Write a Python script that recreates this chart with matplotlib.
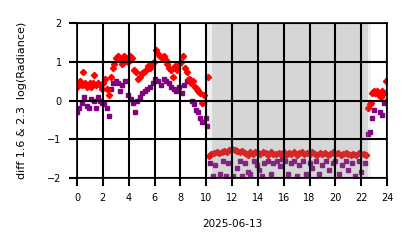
import matplotlib
matplotlib.use("Agg")
import matplotlib.pyplot as plt

# daytime (hours of 2025-06-13, diff value)
red_day_h = [0.0, 0.1, 0.2, 0.35, 0.5, 0.6, 0.75, 0.9, 1.0, 1.1, 1.2, 1.35, 1.45, 1.6, 1.75,
             1.9, 2.0, 2.15, 2.3, 2.45, 2.6, 2.75, 2.9, 3.05, 3.2, 3.35, 3.5, 3.65, 3.8, 3.95,
             4.1, 4.25, 4.4, 4.6, 4.75, 4.9, 5.05, 5.2, 5.35, 5.5, 5.65, 5.8, 5.95, 6.1, 6.25,
             6.4, 6.55, 6.7, 6.85, 7.0, 7.15, 7.3, 7.45, 7.6, 7.75, 7.9, 8.05, 8.2, 8.35, 8.5,
             8.65, 8.8, 8.95, 9.1, 9.25, 9.4, 9.55, 9.7, 9.85, 10.15]
red_day_v = [0.35, 0.45, 0.5, 0.4, 0.75, 0.45, 0.35, 0.4, 0.45, 0.35, 0.45, 0.65, 0.4, 0.45, 0.4,
             0.3, 0.45, 0.55, 0.3, 0.15, 0.6, 0.85, 0.95, 1.1, 1.15, 1.05, 0.95, 1.15, 1.05, 1.0,
             1.15, 1.1, 0.8, 0.75, 0.55, 0.6, 0.7, 0.75, 0.8, 0.9, 0.85, 0.95, 1.0, 1.3, 1.2,
             1.15, 1.1, 1.15, 1.05, 0.95, 0.85, 0.8, 0.6, 0.9, 0.8, 0.95, 1.0, 1.15, 0.85, 0.75,
             0.55, 0.45, 0.5, 0.35, 0.3, 0.25, 0.2, -0.05, 0.15, 0.6]

pur_day_h = [0.0, 0.15, 0.4, 0.55, 0.75, 0.9, 1.1, 1.3, 1.45, 1.6, 1.8, 1.95, 2.1, 2.3, 2.45,
             2.6, 2.8, 3.0, 3.15, 3.35, 3.5, 3.75, 3.95, 4.2, 4.35, 4.5, 4.65, 4.85, 5.05, 5.25,
             5.45, 5.65, 5.85, 6.05, 6.3, 6.5, 6.7, 6.9, 7.1, 7.3, 7.5, 7.7, 7.9, 8.1, 8.3,
             8.5, 8.7, 8.9, 9.05, 9.2, 9.35, 9.5, 9.65, 9.8, 9.95, 10.05]
pur_day_v = [-0.3, -0.2, -0.05, 0.1, -0.15, -0.2, 0.05, 0.0, -0.2, 0.1, 0.0, -0.05, -0.1, -0.2, -0.4,
             0.3, 0.45, 0.5, 0.45, 0.25, 0.4, 0.5, 0.15, 0.05, -0.05, -0.3, 0.0, 0.1, 0.2, 0.25,
             0.3, 0.35, 0.45, 0.55, 0.5, 0.4, 0.55, 0.5, 0.45, 0.35, 0.3, 0.25, 0.35, 0.2, 0.4,
             0.5, 0.55, 0.0, -0.1, -0.25, -0.3, -0.45, -0.55, -0.05, -0.45, -0.65]

# night
red_night_h = [10.2, 10.4, 10.6, 10.8, 11.0, 11.2, 11.4, 11.6, 11.8, 12.0, 12.2, 12.4, 12.6,
               12.8, 13.0, 13.2, 13.4, 13.6, 13.8, 14.0, 14.2, 14.4, 14.6, 14.8, 15.0, 15.2,
               15.4, 15.6, 15.8, 16.0, 16.2, 16.4, 16.6, 16.8, 17.0, 17.2, 17.4, 17.6, 17.8,
               18.0, 18.2, 18.4, 18.6, 18.8, 19.0, 19.2, 19.4, 19.6, 19.8, 20.0, 20.2, 20.4,
               20.6, 20.8, 21.0, 21.2, 21.4, 21.6, 21.8, 22.0, 22.2, 22.4]
red_night_v = [-1.42, -1.38, -1.35, -1.33, -1.36, -1.32, -1.30, -1.34, -1.27, -1.25, -1.28, -1.30,
               -1.33, -1.31, -1.36, -1.40, -1.33, -1.37, -1.32, -1.35, -1.38, -1.34, -1.36, -1.40,
               -1.33, -1.37, -1.39, -1.35, -1.38, -1.33, -1.40, -1.36, -1.38, -1.34, -1.41, -1.36,
               -1.33, -1.38, -1.35, -1.39, -1.34, -1.37, -1.40, -1.35, -1.38, -1.36, -1.41, -1.37,
               -1.34, -1.39, -1.36, -1.40, -1.37, -1.35, -1.39, -1.41, -1.37, -1.40, -1.36, -1.39,
               -1.38, -1.40]

pur_night_h = [10.3, 10.5, 10.7, 10.9, 11.1, 11.3, 11.5, 11.7, 11.9, 12.1, 12.4, 12.6, 12.8, 13.0,
               13.2, 13.4, 13.7, 13.9, 14.1, 14.3, 14.5, 14.8, 15.0, 15.2, 15.5, 15.7, 15.9, 16.1,
               16.3, 16.6, 16.8, 17.0, 17.2, 17.5, 17.7, 18.0, 18.2, 18.5, 18.7, 19.0, 19.3, 19.5,
               19.8, 20.0, 20.3, 20.5, 20.8, 21.0, 21.3, 21.5, 21.8, 22.0, 22.3]
pur_night_v = [-1.6, -1.95, -1.65, -2.1, -1.9, -1.55, -1.95, -1.6, -2.05, -1.95, -1.75, -1.55, -1.95,
               -1.6, -1.85, -1.9, -1.55, -1.65, -1.8, -1.95, -1.6, -1.55, -1.9, -1.6, -1.55, -1.7,
               -1.5, -1.55, -1.9, -1.6, -1.55, -1.95, -1.65, -1.55, -1.9, -1.6, -1.75, -1.55, -1.9,
               -1.65, -1.55, -1.8, -1.6, -1.55, -1.9, -1.65, -1.55, -1.8, -1.6, -1.95, -1.55, -1.85,
               -1.6]

# next morning
red_morn_h = [22.55, 22.65, 22.75, 22.85, 22.95, 23.1, 23.2, 23.35, 23.5, 23.6, 23.75, 23.9]
red_morn_v = [-0.2, -0.1, -0.05, 0.2, 0.25, 0.2, 0.25, 0.15, 0.1, 0.25, 0.2, 0.5]
pur_morn_h = [22.55, 22.7, 22.8, 23.0, 23.45, 23.6, 23.75, 24.0]
pur_morn_v = [-0.85, -0.8, -0.45, -0.25, -0.3, -0.37, -0.05, 0.0]

red_h = red_day_h + red_night_h + red_morn_h
red_v = red_day_v + red_night_v + red_morn_v
pur_h = pur_day_h + pur_night_h + pur_morn_h
pur_v = pur_day_v + pur_night_v + pur_morn_v

fig = plt.figure(figsize=(4.14, 2.48), dpi=100)
ax = fig.add_axes([0.186, 0.282, 0.749, 0.625])

ax.plot(pur_h, pur_v, linestyle="none", marker="s", markersize=2.6, color="purple", zorder=2)
ax.plot(red_h, red_v, linestyle="none", marker="D", markersize=3.2, color="red", zorder=2)

# night shading
ax.axvspan(10.05, 22.75, color="gray", alpha=0.12, lw=0, zorder=2.5)
ax.axvspan(10.45, 22.5, color="gray", alpha=0.22, lw=0, zorder=2.5)

ax.set_xlim(0, 24)
ax.set_ylim(-2, 2)
ax.set_xticks(range(0, 25, 2))
ax.set_yticks([-2, -1, 0, 1, 2])
ax.grid(True, color="black", linewidth=1.5, zorder=3)
ax.set_axisbelow(False)
ax.tick_params(labelsize=7, length=6, width=1.5, pad=5)
for s in ax.spines.values():
    s.set_linewidth(1.2)
ax.set_xlabel("2025-06-13", fontsize=7.5)
ax.set_ylabel("diff 1.6 & 2.3  log(Radiance)", fontsize=8)
ax.xaxis.set_label_coords(0.5, -0.265)
ax.yaxis.set_label_coords(-0.16, 0.5)

fig.savefig("out.png", dpi=100)
